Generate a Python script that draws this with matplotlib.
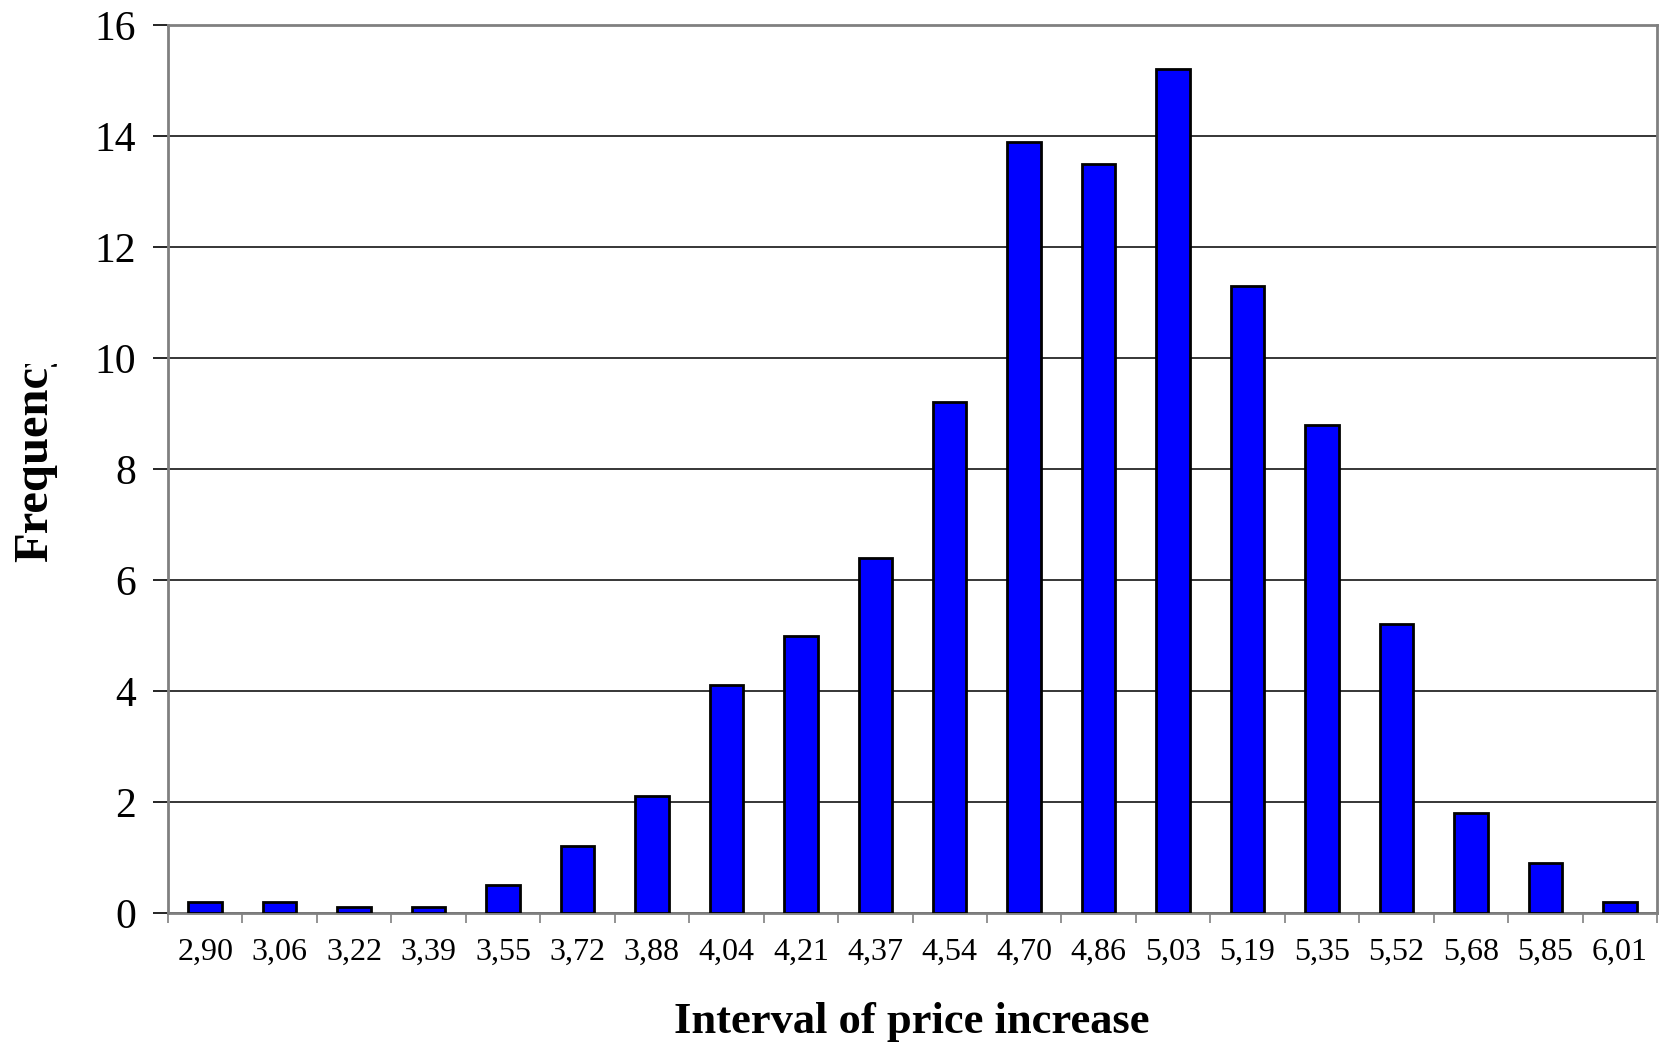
import numpy as np
import matplotlib.pyplot as plt
from matplotlib.transforms import Bbox

intervals = ['2,90', '3,06', '3,22', '3,39', '3,55', '3,72', '3,88', '4,04', '4,21', '4,37',
             '4,54', '4,70', '4,86', '5,03', '5,19', '5,35', '5,52', '5,68', '5,85', '6,01']
frequency = [0.2, 0.2, 0.1, 0.1, 0.5, 1.2, 2.1, 4.1, 5.0, 6.4,
             9.2, 13.9, 13.5, 15.2, 11.3, 8.8, 5.2, 1.8, 0.9, 0.2]

W, H = 1671, 1045
fig = plt.figure(figsize=(W / 100, H / 100), dpi=100)
ax = fig.add_axes([168 / W, 1 - 913 / H, (1657 - 168) / W, (913 - 25) / H])

x = np.arange(len(intervals))
ax.bar(x, frequency, width=0.45, color='#0000ff', edgecolor='black', linewidth=2, zorder=3)

ax.set_xlim(-0.5, len(intervals) - 0.5)
ax.set_ylim(0, 16)
ax.set_yticks(np.arange(0, 17, 2))
ax.yaxis.grid(True, color='black', linewidth=1.1, zorder=0)

# ticks at bin edges, labels at centres
ax.set_xticks(np.arange(-0.5, len(intervals), 1.0))
ax.set_xticklabels([])
ax.set_xticks(x, minor=True)
ax.set_xticklabels(intervals, minor=True, family='Liberation Serif', fontsize=23)
ax.tick_params(axis='x', which='major', length=7, width=1.2, color='#808080', direction='out')
ax.tick_params(axis='x', which='minor', length=0, pad=18)
ax.tick_params(axis='y', length=11, width=1.2, color='black', direction='out', pad=12)
for lab in ax.get_yticklabels():
    lab.set_family('Liberation Serif')
    lab.set_fontsize(30)

for s in ax.spines.values():
    s.set_color('#808080')
    s.set_linewidth(2)

fig.text(912 / W, 1 - 1033 / H, 'Interval of price increase', family='Liberation Serif',
         fontsize=32, fontweight='bold', ha='center', va='baseline')

# y label is cut off at the top in the source chart
yl = fig.text(35 / W, 1 - 562 / H, 'Frequency', family='Liberation Serif', fontsize=35,
              fontweight='bold', rotation=90, ha='center', va='bottom')
yl.set_clip_box(Bbox.from_extents(0, 0, 120, H - 364))
yl.set_clip_on(True)

fig.savefig('out.png', dpi=100, facecolor='white')
